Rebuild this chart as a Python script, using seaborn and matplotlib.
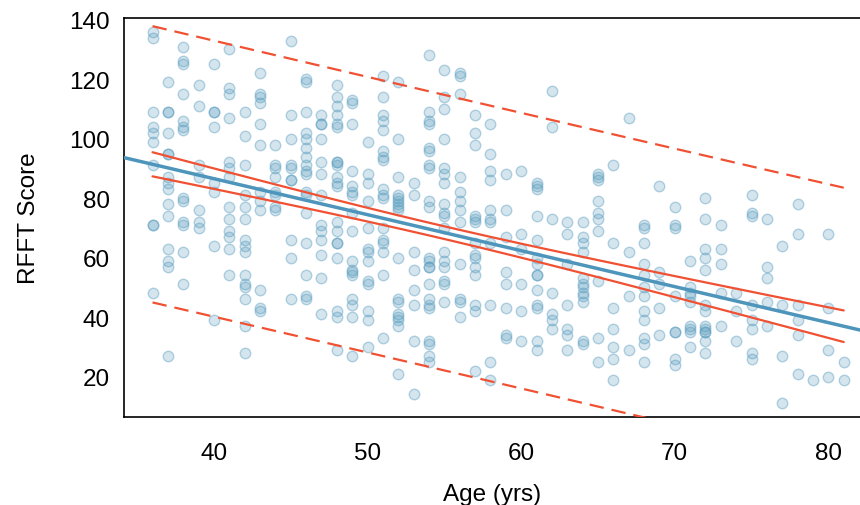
import numpy as np
import pandas as pd
import seaborn as sns
import matplotlib.pyplot as plt

# RFFT score vs age, one list of scores per age
ages = list(range(36, 82))

rfft_36 = [136, 134, 109, 104, 102, 99, 91, 71, 71, 48]
rfft_37 = [119, 109, 109, 102, 95, 95, 87, 85, 83, 78, 74, 63, 59, 57, 27]
rfft_38 = [131, 126, 125, 115, 106, 104, 103, 80, 79, 72, 71, 62, 51]
rfft_39 = [118, 111, 91, 87, 76, 72, 70]
rfft_40 = [125, 109, 109, 104, 85, 82, 64, 39]
rfft_41 = [130, 117, 115, 107, 92, 90, 87, 77, 73, 69, 67, 63, 54]
rfft_42 = [109, 101, 91, 81, 77, 73, 66, 64, 62, 54, 51, 50, 46, 37, 28]
rfft_43 = [122, 115, 114, 112, 105, 98, 82, 79, 76, 49, 43, 42]
rfft_44 = [98, 91, 90, 87, 82, 81, 77, 76]
rfft_45 = [133, 108, 100, 91, 90, 86, 86, 66, 60, 46]
rfft_46 = [120, 119, 109, 102, 100, 97, 94, 91, 89, 88, 82, 81, 75, 65, 54, 47, 46]
rfft_47 = [108, 105, 105, 100, 92, 88, 81, 71, 69, 66, 61, 53, 41]
rfft_48 = [118, 114, 111, 108, 105, 104, 92, 92, 91, 87, 85, 84, 72, 69, 65, 65,
           60, 42, 40, 29]
rfft_49 = [113, 112, 105, 89, 84, 82, 81, 75, 69, 59, 56, 55, 54, 46, 44, 40, 27]
rfft_50 = [99, 88, 85, 79, 70, 63, 62, 59, 52, 51, 42, 39, 30]
rfft_51 = [121, 114, 108, 106, 103, 96, 94, 93, 83, 81, 80, 70, 66, 65, 62, 54, 33]
rfft_52 = [119, 100, 87, 81, 80, 79, 78, 77, 76, 60, 46, 45, 41, 40, 39, 37, 21]
rfft_53 = [85, 81, 62, 56, 49, 44, 32, 14]
rfft_54 = [128, 109, 106, 105, 97, 96, 91, 90, 79, 77, 60, 59, 57, 57, 51, 46,
           44, 43, 32, 31, 27, 25]
rfft_55 = [123, 114, 110, 100, 90, 88, 85, 78, 75, 74, 70, 62, 59, 57, 52, 51, 45]
rfft_56 = [122, 121, 115, 87, 82, 79, 76, 72, 58, 46, 45, 40]
rfft_57 = [108, 102, 98, 74, 73, 72, 65, 61, 60, 57, 54, 44, 42, 22]
rfft_58 = [105, 95, 89, 86, 76, 73, 72, 65, 44, 25, 19]
rfft_59 = [88, 76, 67, 55, 51, 43, 34, 33]
rfft_60 = [89, 68, 63, 51, 42, 32]
rfft_61 = [85, 84, 83, 74, 66, 60, 58, 54, 54, 49, 44, 43, 32, 29]
rfft_62 = [116, 104, 73, 48, 41, 39, 36]
rfft_63 = [72, 68, 58, 44, 36, 34, 29]
rfft_64 = [72, 67, 65, 62, 53, 51, 50, 48, 47, 45, 32, 31]
rfft_65 = [88, 87, 86, 79, 75, 73, 69, 52, 33, 25]
rfft_66 = [91, 65, 43, 36, 30, 26, 19]
rfft_67 = [107, 62, 47, 29]
rfft_68 = [71, 70, 65, 58, 54, 50, 47, 42, 39, 33, 31, 25]
rfft_69 = [84, 55, 51, 43, 34]
rfft_70 = [77, 71, 70, 47, 35, 35, 26, 24]
rfft_71 = [59, 50, 48, 47, 45, 37, 36, 35, 30]
rfft_72 = [80, 73, 63, 60, 56, 44, 42, 37, 36, 35, 35, 32, 28]
rfft_73 = [71, 63, 58, 48, 37]
rfft_74 = [48, 42, 32]
rfft_75 = [81, 75, 74, 44, 39, 36, 28, 26]
rfft_76 = [73, 57, 53, 45, 37]
rfft_77 = [64, 44, 27, 11]
rfft_78 = [78, 68, 44, 39, 34, 21]
rfft_79 = [19]
rfft_80 = [68, 43, 29, 20]
rfft_81 = [25, 19]

scores = [rfft_36, rfft_37, rfft_38, rfft_39, rfft_40, rfft_41, rfft_42, rfft_43,
          rfft_44, rfft_45, rfft_46, rfft_47, rfft_48, rfft_49, rfft_50, rfft_51,
          rfft_52, rfft_53, rfft_54, rfft_55, rfft_56, rfft_57, rfft_58, rfft_59,
          rfft_60, rfft_61, rfft_62, rfft_63, rfft_64, rfft_65, rfft_66, rfft_67,
          rfft_68, rfft_69, rfft_70, rfft_71, rfft_72, rfft_73, rfft_74, rfft_75,
          rfft_76, rfft_77, rfft_78, rfft_79, rfft_80, rfft_81]

df = pd.DataFrame([(a, s) for a, vals in zip(ages, scores) for s in vals],
                  columns=['age', 'rfft'])

BLUE = '#569BBD'
LINE_BLUE = '#4E95BC'
RED = '#F05133'

sns.set_theme(style='white')
plt.rcParams['font.family'] = ['Liberation Sans', 'DejaVu Sans']
plt.rcParams['axes.labelcolor'] = 'black'
plt.rcParams['text.color'] = 'black'

fig = plt.figure(figsize=(8.6, 5.06), dpi=100)
ax = fig.add_axes([0.1445, 0.1745, 0.8555, 0.7874])
ax.set_xlim(34.16, 82.06)
ax.set_ylim(6.5, 140.5)

sns.scatterplot(data=df, x='age', y='rfft', ax=ax, s=57, color=BLUE,
                facecolor=(86/255, 155/255, 189/255, 0.25),
                edgecolor=(86/255, 155/255, 189/255, 0.42), linewidth=1,
                zorder=2)

# least squares fit + 95% confidence / prediction bands
x = df['age'].to_numpy(float)
y = df['rfft'].to_numpy(float)
n = len(x)
b1, b0 = np.polyfit(x, y, 1)
resid = y - (b0 + b1 * x)
s = np.sqrt((resid ** 2).sum() / (n - 2))
sxx = ((x - x.mean()) ** 2).sum()
t = 1.965

xs = np.linspace(x.min(), x.max(), 100)
fit = b0 + b1 * xs
se_mean = s * np.sqrt(1 / n + (xs - x.mean()) ** 2 / sxx)
se_pred = s * np.sqrt(1 + 1 / n + (xs - x.mean()) ** 2 / sxx)

sns.regplot(data=df, x='age', y='rfft', ax=ax, scatter=False, ci=None,
            truncate=False, color=LINE_BLUE, line_kws={'lw': 2.5, 'zorder': 4})
for sgn in (1, -1):
    ax.plot(xs, fit + sgn * t * se_mean, color=RED, lw=1.6, zorder=5)
    ax.plot(xs, fit + sgn * t * se_pred, color=RED, lw=1.6, zorder=5,
            dashes=(6.5, 3.6))

ax.set_xticks([40, 50, 60, 70, 80])
ax.set_yticks([20, 40, 60, 80, 100, 120, 140])
ax.tick_params(axis='both', length=7, width=1.2, color='black',
               labelsize=17.5, labelcolor='black', direction='out')
ax.tick_params(axis='x', pad=11)
ax.tick_params(axis='y', pad=3.6)
ax.set_xlabel('Age (yrs)', fontsize=17.5, labelpad=14, color='black')
ax.set_ylabel('RFFT Score', fontsize=17.5, labelpad=21, color='black')

ax.spines['right'].set_visible(False)
for side in ('top', 'left', 'bottom'):
    ax.spines[side].set_color('black')
    ax.spines[side].set_linewidth(1.2)

fig.savefig('out.png', dpi=100)
